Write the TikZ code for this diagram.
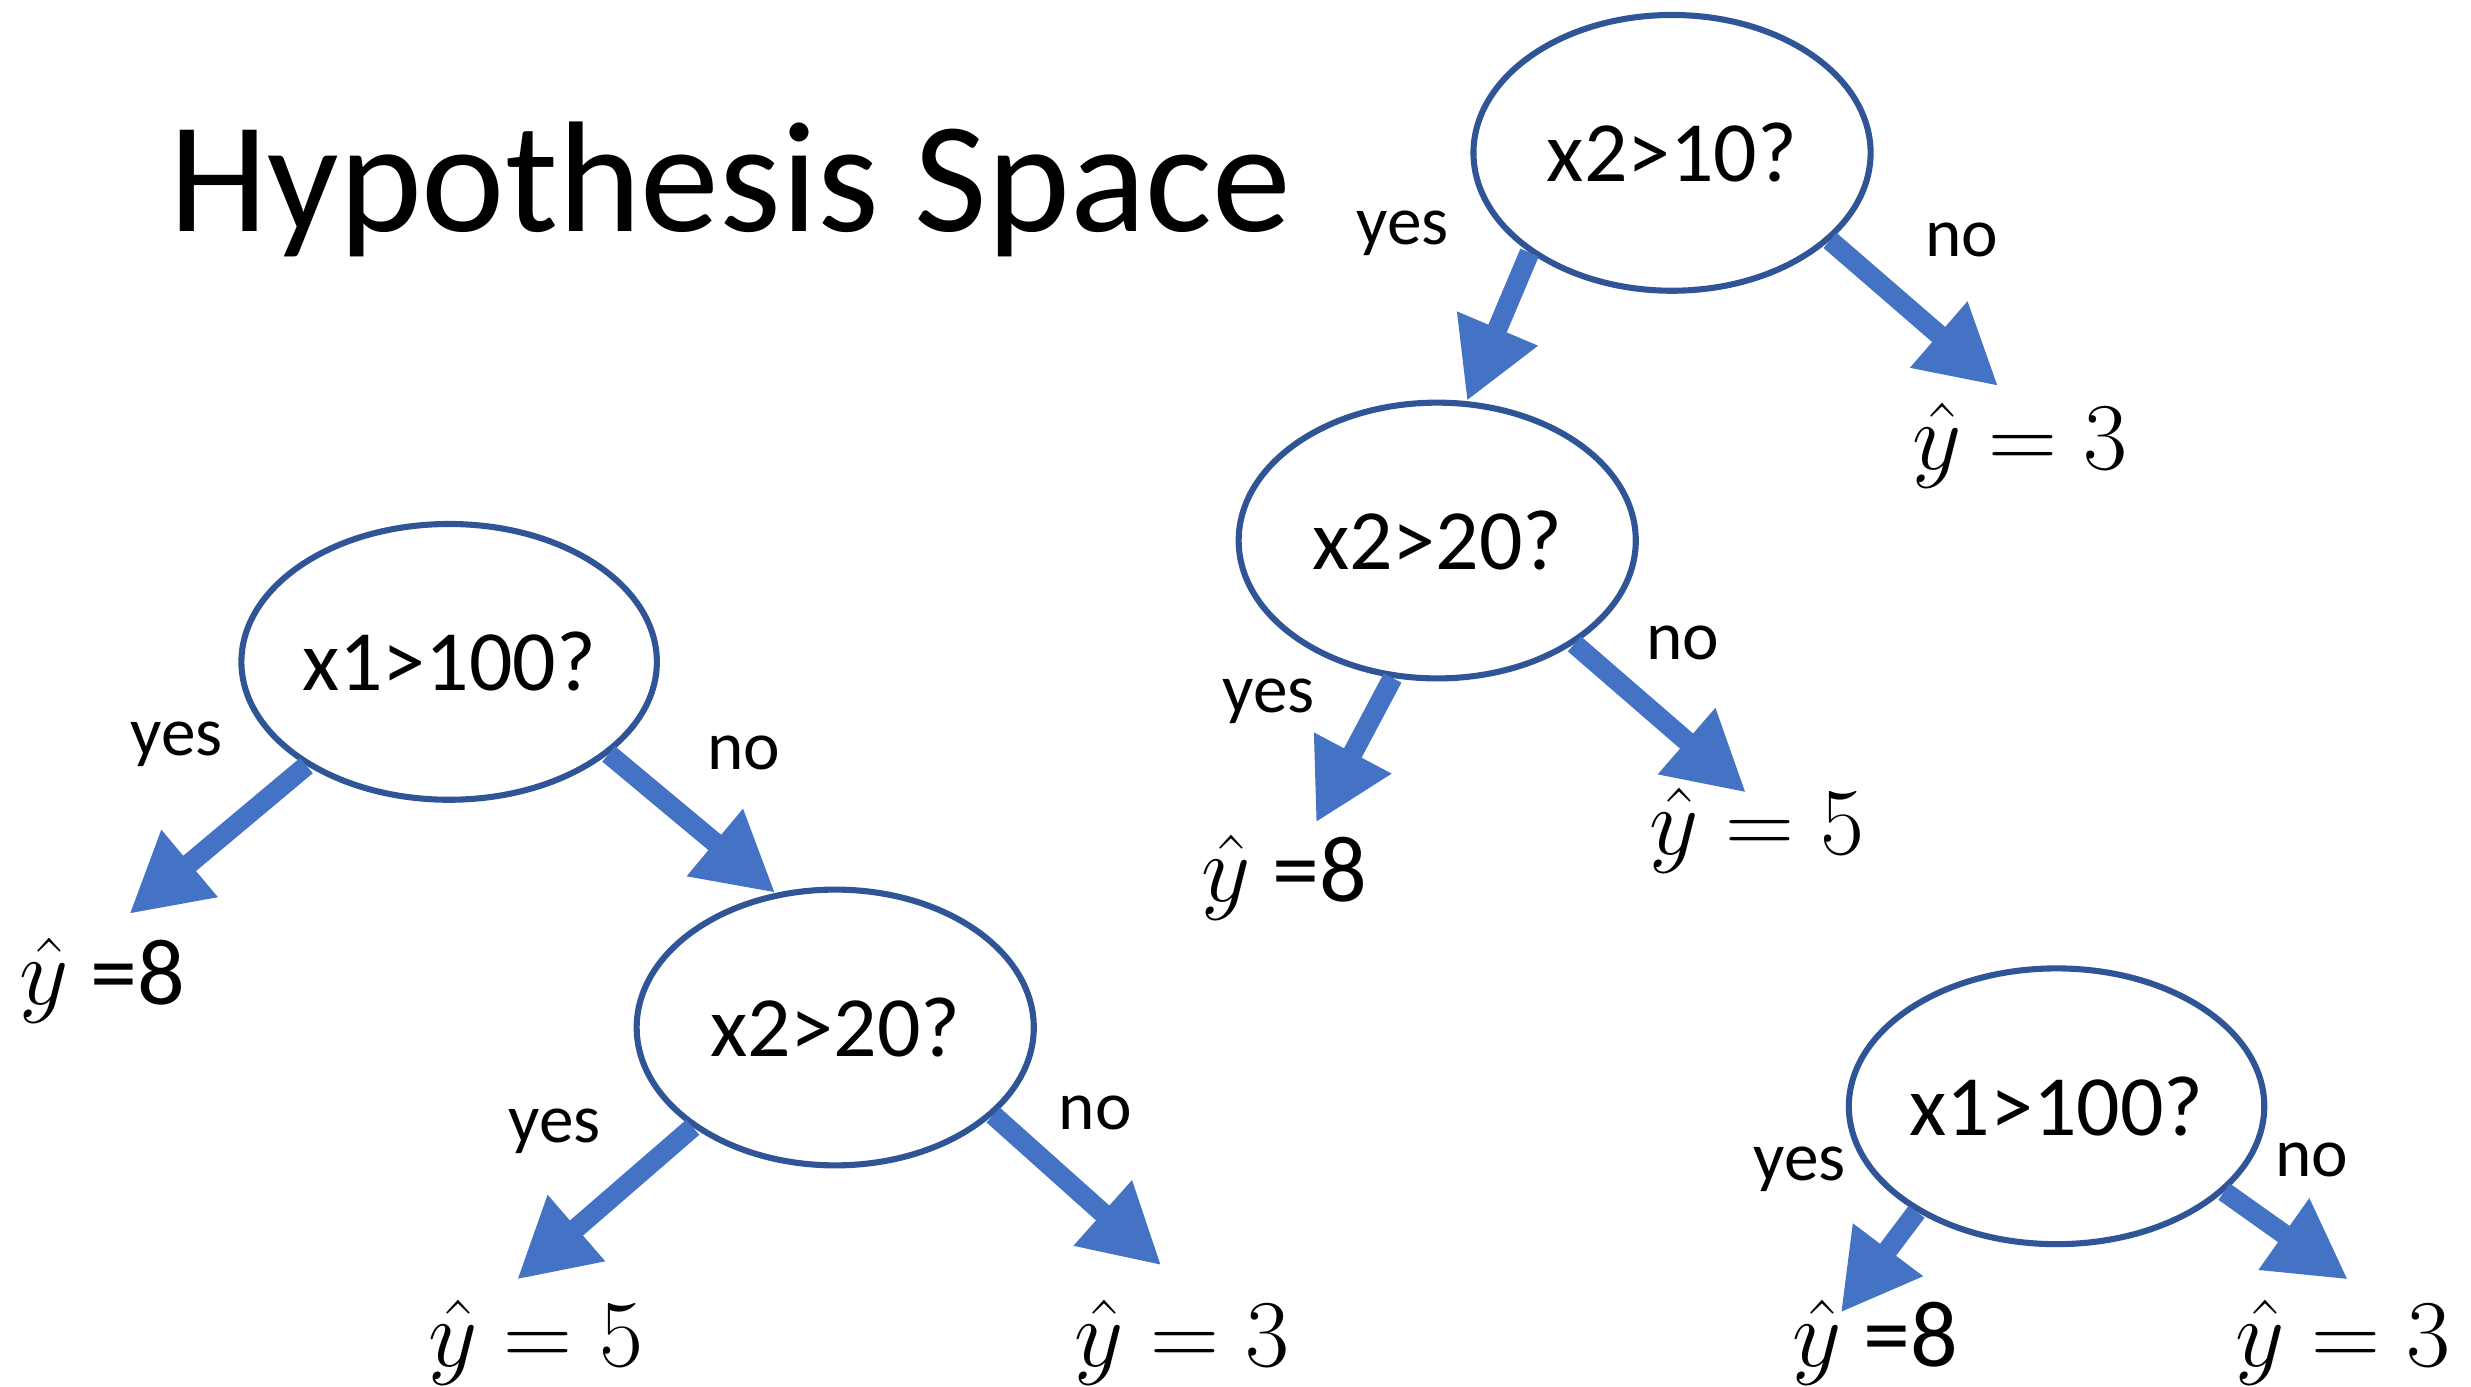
\documentclass[tikz,border=0pt]{standalone}
\usepackage{fontspec}
\setmainfont{Carlito}
\usetikzlibrary{shapes.geometric,arrows.meta}
\definecolor{nodeblue}{HTML}{2F5597}
\definecolor{arrowblue}{HTML}{4472C4}
\tikzset{
  test/.style={ellipse,draw=nodeblue,line width=1.1pt,minimum width=2.52cm,minimum height=1.75cm,inner sep=0pt,font=\fontsize{15.5}{18}\selectfont},
  branch/.style={color=arrowblue,line width=3.6pt,-{Triangle[length=5mm,width=5.2mm]}},
  lbl/.style={font=\fontsize{12.5}{15}\selectfont,inner sep=0pt},
  leaf/.style={font=\fontsize{17}{20}\selectfont,inner sep=0pt}
}
\begin{document}
\begin{tikzpicture}
\useasboundingbox (0,0) rectangle (15.68,8.80);

\node[anchor=base west,font=\fontsize{28.5}{34}\selectfont] (title) at (0.95,7.33) {Hypothesis Space};

% top right tree
\node[test] (t1) at (10.61,7.83) {x2>10?};
\node[test] (t2) at (9.12,5.37) {x2>20?};
\node[leaf] (t1no) at (12.82,5.97) {$\hat{y} = 3$};
\node[leaf] (t2yes) at (8.15,3.23) {$\hat{y}$ =8};
\node[leaf] (t2no) at (11.15,3.53) {$\hat{y} = 5$};
\coordinate (t1tip) at (12.68,6.35);
\coordinate (t2ytip) at (8.35,3.58);
\coordinate (t2ntip) at (11.08,3.77);

\draw[branch] (t1.215) -- (t2.78);
\draw[branch] (t1.-29) -- (t1tip);
\draw[branch] (t2.252) -- (t2ytip);
\draw[branch] (t2.-37) -- (t2ntip);

\node[lbl] at (8.90,7.32) {yes};
\node[lbl] at (12.45,7.28) {no};
\node[lbl] at (8.05,4.35) {yes};
\node[lbl] at (10.68,4.72) {no};

% left tree
\node[test] (r1) at (2.85,4.60) {x1>100?};
\node[test] (r2) at (5.30,2.28) {x2>20?};
\node[leaf] (r1yes) at (0.65,2.58) {$\hat{y}$ =8};
\node[leaf] (r2yes) at (3.40,0.28) {$\hat{y} = 5$};
\node[leaf] (r2no) at (7.50,0.28) {$\hat{y} = 3$};
\coordinate (r1tip) at (0.82,3.00);
\coordinate (r2ytip) at (3.28,0.68);
\coordinate (r2ntip) at (7.37,0.77);

\draw[branch] (r1.216) -- (r1tip);
\draw[branch] (r1.-30) -- (r2.114);
\draw[branch] (r2.215) -- (r2ytip);
\draw[branch] (r2.-29) -- (r2ntip);

\node[lbl] at (1.12,4.08) {yes};
\node[lbl] at (4.72,4.02) {no};
\node[lbl] at (3.52,1.62) {yes};
\node[lbl] at (6.95,1.74) {no};

% small tree
\node[test] (s1) at (13.05,1.78) {x1>100?};
\node[leaf] (s1yes) at (11.90,0.28) {$\hat{y}$ =8};
\node[leaf] (s1no) at (14.87,0.28) {$\hat{y} = 3$};
\coordinate (s1ytip) at (11.68,0.47);
\coordinate (s1ntip) at (14.90,0.68);

\draw[branch] (s1.217) -- (s1ytip);
\draw[branch] (s1.-27) -- (s1ntip);

\node[lbl] at (11.42,1.38) {yes};
\node[lbl] at (14.67,1.44) {no};
\end{tikzpicture}
\end{document}
